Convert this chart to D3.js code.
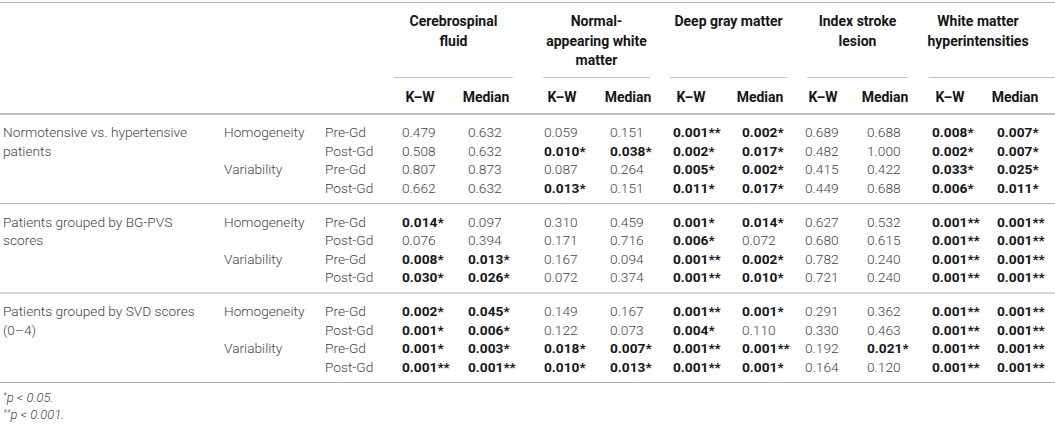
<!DOCTYPE html>
<html>
<head>
<meta charset="utf-8">
<script src="https://cdn.jsdelivr.net/npm/d3@7"></script>
<style>
  html, body { margin: 0; padding: 0; background: #fff; }
  svg { display: block; font-family: Roboto, "Liberation Sans", sans-serif; }
</style>
</head>
<body>
<svg id="chart" width="1055" height="426"></svg>
<script>
// ---- data ----
var groups = [
  ["Normotensive vs. hypertensive", "patients"],
  ["Patients grouped by BG-PVS", "scores"],
  ["Patients grouped by SVD scores", "(0\u20134)"]
];
var measures = ["Homogeneity", "Variability"];
var phases = ["Pre-Gd", "Post-Gd"];
var regions = [
  ["Cerebrospinal", "fluid"],
  ["Normal-", "appearing white", "matter"],
  ["Deep gray matter"],
  ["Index stroke", "lesion"],
  ["White matter", "hyperintensities"]
];
var stats = ["K\u2013W", "Median"];

// one array per region and statistic, 12 rows (group x measure x phase)
var csfKW   = ["0.479", "0.508", "0.807", "0.662", "0.014*", "0.076", "0.008*", "0.030*", "0.002*", "0.001*", "0.001*", "0.001**"];
var csfMed  = ["0.632", "0.632", "0.873", "0.632", "0.097", "0.394", "0.013*", "0.026*", "0.045*", "0.006*", "0.003*", "0.001**"];
var nawmKW  = ["0.059", "0.010*", "0.087", "0.013*", "0.310", "0.171", "0.167", "0.072", "0.149", "0.122", "0.018*", "0.010*"];
var nawmMed = ["0.151", "0.038*", "0.264", "0.151", "0.459", "0.716", "0.094", "0.374", "0.167", "0.073", "0.007*", "0.013*"];
var dgmKW   = ["0.001**", "0.002*", "0.005*", "0.011*", "0.001*", "0.006*", "0.001**", "0.001**", "0.001**", "0.004*", "0.001**", "0.001**"];
var dgmMed  = ["0.002*", "0.017*", "0.002*", "0.017*", "0.014*", "0.072", "0.002*", "0.010*", "0.001*", "0.110", "0.001**", "0.001*"];
var islKW   = ["0.689", "0.482", "0.415", "0.449", "0.627", "0.680", "0.782", "0.721", "0.291", "0.330", "0.192", "0.164"];
var islMed  = ["0.688", "1.000", "0.422", "0.688", "0.532", "0.615", "0.240", "0.240", "0.362", "0.463", "0.021*", "0.120"];
var wmhKW   = ["0.008*", "0.002*", "0.033*", "0.006*", "0.001**", "0.001**", "0.001**", "0.001**", "0.001**", "0.001**", "0.001**", "0.001**"];
var wmhMed  = ["0.007*", "0.007*", "0.025*", "0.011*", "0.001**", "0.001**", "0.001**", "0.001**", "0.001**", "0.001**", "0.001**", "0.001**"];

var footnotes = [["*", "p < 0.05."], ["**", "p < 0.001."]];

// ---- layout ----
var W = 1055, H = 426;
var fs = 13.7;
var lightColor = "#444", boldColor = "#161616", ruleColor = "#b4b4b4";

var series = [csfKW, csfMed, nawmKW, nawmMed, dgmKW, dgmMed, islKW, islMed, wmhKW, wmhMed];
var colKeys = d3.range(series.length);
var colLeft = [402, 468, 544, 610, 673, 742, 805, 867, 932, 997];
var groupSpan = [[394, 513], [543, 650], [670, 787], [807, 908], [929, 1027]];

var x = d3.scaleOrdinal().domain(colKeys).range(colLeft);
var labelX = d3.scaleOrdinal().domain(["group", "measure", "phase"]).range([3, 224, 325]);

// row position: group / row within group
var rowsPerGroup = measures.length * phases.length;
var yGroup = d3.scaleLinear().domain([0, 1]).range([132, 221.5]);
var yRow = d3.scaleLinear().domain([0, 1]).range([0, 18.6]);
function rowY(i) {
  var g = Math.floor(i / rowsPerGroup), r = i % rowsPerGroup;
  return yGroup(g) + yRow(r);
}

var svg = d3.select("#chart");

function hline(y, x0, x1, w, color) {
  svg.append("line")
    .attr("x1", x0).attr("x2", x1)
    .attr("y1", y).attr("y2", y)
    .attr("stroke", color || ruleColor)
    .attr("stroke-width", w || 1);
}

// rules
hline(2.5, 0, W, 1.2);
hline(114, 0, W, 2.2, "#bdbdbd");
groups.forEach(function (g, gi) {
  hline(yGroup(gi) + 71.5, 0, W, 1.2);
});

// region headers
var header = svg.append("g").attr("class", "header");
regions.forEach(function (lines, ri) {
  var span = groupSpan[ri];
  var cx = (span[0] + span[1]) / 2;
  header.selectAll(null)
    .data(lines)
    .enter()
    .append("text")
    .attr("x", cx)
    .attr("y", function (d, i) { return 26 + i * 19.5; })
    .attr("text-anchor", "middle")
    .attr("font-size", 14)
    .attr("font-weight", 700)
    .attr("fill", boldColor)
    .text(function (d) { return d; });
  hline(77.5, span[0], ri === regions.length - 1 ? W : span[1], 1, "#c4c4c4");
});

// stat headers
header.selectAll("text.stat")
  .data(colKeys)
  .enter()
  .append("text")
  .attr("class", "stat")
  .attr("x", function (d) { return x(d) + 18; })
  .attr("y", 102)
  .attr("text-anchor", "middle")
  .attr("font-size", 14)
  .attr("font-weight", 700)
  .attr("fill", boldColor)
  .text(function (d) { return stats[d % stats.length]; });

// row labels
var labels = svg.append("g").attr("class", "labels")
  .attr("font-size", fs)
  .attr("font-weight", 300)
  .attr("fill", lightColor);

groups.forEach(function (lines, gi) {
  labels.selectAll(null)
    .data(lines)
    .enter()
    .append("text")
    .attr("x", labelX("group"))
    .attr("y", function (d, i) { return rowY(gi * rowsPerGroup + i) + 5; })
    .text(function (d) { return d; });

  measures.forEach(function (m, mi) {
    labels.append("text")
      .attr("x", labelX("measure"))
      .attr("y", rowY(gi * rowsPerGroup + mi * phases.length) + 5)
      .text(m);
    phases.forEach(function (p, pi) {
      labels.append("text")
        .attr("x", labelX("phase"))
        .attr("y", rowY(gi * rowsPerGroup + mi * phases.length + pi) + 5)
        .text(p);
    });
  });
});

// values
var cells = svg.append("g").attr("class", "cells").attr("font-size", fs);
series.forEach(function (vals, ci) {
  cells.selectAll(null)
    .data(vals)
    .enter()
    .append("text")
    .attr("x", x(ci))
    .attr("y", function (d, i) { return rowY(i) + 5; })
    .attr("font-weight", function (d) { return d.indexOf("*") >= 0 ? 700 : 300; })
    .attr("fill", function (d) { return d.indexOf("*") >= 0 ? boldColor : lightColor; })
    .text(function (d) { return d; });
});

// footnotes
var notes = svg.append("g").attr("class", "notes")
  .attr("font-size", 13)
  .attr("font-style", "italic")
  .attr("font-weight", 300)
  .attr("fill", lightColor);
notes.selectAll("text")
  .data(footnotes)
  .enter()
  .append("text")
  .attr("x", labelX("group"))
  .attr("y", function (d, i) { return 402 + i * 17; })
  .each(function (d) {
    var t = d3.select(this);
    t.append("tspan").attr("font-size", 9).attr("dy", -3).text(d[0]);
    t.append("tspan").attr("dy", 3).text(d[1]);
  });
</script>
</body>
</html>
